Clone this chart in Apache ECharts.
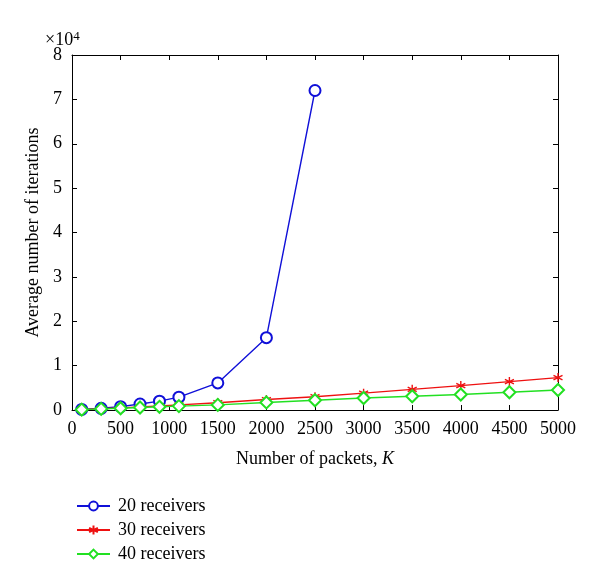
<!DOCTYPE html>
<html>
<head>
<meta charset="utf-8">
<script src="https://cdn.jsdelivr.net/npm/echarts@6/dist/echarts.min.js"></script>
<style>html,body{margin:0;padding:0;background:#fff;}#c{width:600px;height:583px;}</style>
</head>
<body>
<div id="c"></div>
<script>
const packets20 = [100, 300, 500, 700, 900, 1100, 1500, 2000, 2500];
const iter20 = [120, 380, 750, 1350, 2000, 2900, 6100, 16300, 72000];
const packets = [100, 300, 500, 700, 900, 1100, 1500, 2000, 2500, 3000, 3500, 4000, 4500, 5000];
const iter30 = [90, 280, 480, 700, 900, 1150, 1650, 2350, 3000, 3800, 4650, 5500, 6400, 7300];
const iter40 = [80, 250, 400, 560, 720, 880, 1150, 1700, 2200, 2700, 3100, 3500, 4000, 4500];
const seriesNames = ['20 receivers', '30 receivers', '40 receivers'];
const xTicks = [0, 500, 1000, 1500, 2000, 2500, 3000, 3500, 4000, 4500, 5000];
const yTicks = [0, 1, 2, 3, 4, 5, 6, 7, 8];

const font = '"Liberation Serif", "DejaVu Serif", serif';
const chart = echarts.init(document.getElementById('c'), null, {renderer: 'canvas'});
const star = 'path://M0,-1L0,1M-0.866,-0.5L0.866,0.5M-0.866,0.5L0.866,-0.5';
const zip = (xs, ys) => xs.map((x, i) => [x, ys[i]]);
const axisCommon = {
  axisLine: {show: true, onZero: false, lineStyle: {color: '#000', width: 1}},
  axisTick: {show: true, inside: true, length: 5, lineStyle: {color: '#000'}},
  splitLine: {show: false}
};
chart.setOption({
  animation: false,
  backgroundColor: '#fff',
  grid: {left: 72, right: 42, top: 55, bottom: 173, containLabel: false},
  xAxis: [
    Object.assign({
      type: 'value', min: xTicks[0], max: xTicks[xTicks.length - 1], interval: 500,
      name: 'Number of packets, {i|K}', nameLocation: 'middle', nameGap: 40,
      nameTextStyle: {fontFamily: font, fontSize: 18, color: '#000', rich: {i: {fontFamily: font, fontSize: 18, fontStyle: 'italic', color: '#000'}}},
      axisLabel: {fontFamily: font, fontSize: 18, color: '#000', margin: 10, formatter: v => String(v)}
    }, axisCommon),
    Object.assign({
      type: 'value', position: 'top', min: 0, max: 5000, interval: 500,
      axisLabel: {show: false}
    }, axisCommon)
  ],
  yAxis: [
    Object.assign({
      type: 'value', min: 0, max: yTicks[yTicks.length - 1] * 10000, interval: 10000,
      name: 'Average number of iterations', nameLocation: 'middle', nameGap: 28, nameRotate: 90,
      nameTextStyle: {fontFamily: font, fontSize: 18, color: '#000'},
      axisLabel: {fontFamily: font, fontSize: 18, color: '#000', margin: 10, formatter: v => String(v / 10000)}
    }, axisCommon),
    Object.assign({
      type: 'value', position: 'right', min: 0, max: 80000, interval: 10000,
      axisLabel: {show: false}
    }, axisCommon)
  ],
  legend: {
    orient: 'vertical', left: 71, top: 492, itemWidth: 33, itemHeight: 11, itemGap: 6,
    textStyle: {fontFamily: font, fontSize: 18, color: '#000', padding: [0, 0, 0, 3]},
    data: seriesNames
  },
  graphic: [{
    type: 'text', left: 45, top: 30,
    style: {
      text: '×10{s|4}', fontFamily: font, fontSize: 18, fill: '#000',
      rich: {s: {fontFamily: font, fontSize: 13, fill: '#000', verticalAlign: 'top', padding: [0, 0, 8, 0]}}
    }
  }],
  series: [
    {
      name: seriesNames[0], type: 'line', data: zip(packets20, iter20),
      symbol: 'emptyCircle', symbolSize: 11,
      lineStyle: {color: '#1010d8', width: 1.4},
      itemStyle: {color: '#1010d8', borderColor: '#1010d8', borderWidth: 1.4}
    },
    {
      name: seriesNames[1], type: 'line', data: zip(packets, iter30),
      symbol: star, symbolSize: 9,
      lineStyle: {color: '#ee1111', width: 1.4},
      itemStyle: {color: '#ee1111', borderColor: '#ee1111', borderWidth: 1.4}
    },
    {
      name: seriesNames[2], type: 'line', data: zip(packets, iter40),
      symbol: 'emptyDiamond', symbolSize: 12,
      lineStyle: {color: '#22e022', width: 1.4},
      itemStyle: {color: '#22e022', borderColor: '#22e022', borderWidth: 1.4}
    }
  ]
});
</script>
</body>
</html>
